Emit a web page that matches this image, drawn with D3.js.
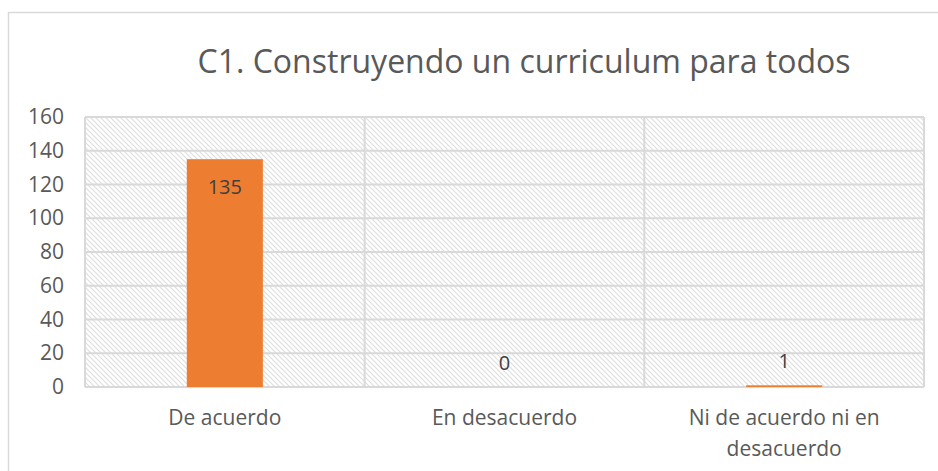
<!DOCTYPE html>
<html lang="es">
<head>
  <meta charset="UTF-8">
  <script src="https://d3js.org/d3.v7.min.js" charset="utf-8"></script>
  <title>C1</title>
  <style>
    body { margin: 0; background: #fff; }
    text { font-family: "Open Sans", Lato, sans-serif; }
  </style>
</head>
<body>
  <script type="text/javascript">
    // chart data
    var categories = ["De acuerdo", "En desacuerdo", "Ni de acuerdo ni en desacuerdo"];
    var values = [135, 0, 1];
    var yTicks = [0, 20, 40, 60, 80, 100, 120, 140, 160];
    var title = "C1. Construyendo un curriculum para todos";

    var outer_w = 938, outer_h = 471;
    var margin = { top: 117, right: 14, bottom: 84, left: 85 };
    var w = outer_w - margin.left - margin.right;
    var h = outer_h - margin.top - margin.bottom;

    var svg = d3.select("body").append("svg")
      .attr("width", outer_w)
      .attr("height", outer_h);

    // hatch pattern for the plot area
    var defs = svg.append("defs");
    var pat = defs.append("pattern")
      .attr("id", "hatch")
      .attr("patternUnits", "userSpaceOnUse")
      .attr("width", 5).attr("height", 5);
    pat.append("path")
      .attr("d", "M-1,-1 L6,6 M-1,4 L1,6 M4,-1 L6,1")
      .attr("stroke", "#dedede")
      .attr("stroke-width", 1.2);

    // outer chart border (only left/top visible)
    svg.append("rect")
      .attr("x", 8.5).attr("y", 12.5)
      .attr("width", 960).attr("height", 500)
      .attr("fill", "none")
      .attr("stroke", "#d9d9d9")
      .attr("stroke-width", 1.5);

    svg.append("text")
      .attr("x", 524).attr("y", 73)
      .attr("text-anchor", "middle")
      .attr("font-size", 32)
      .attr("fill", "#595959")
      .text(title);

    var xScale = d3.scaleBand()
      .domain(categories)
      .range([0, w])
      .paddingInner(0.728)
      .paddingOuter(0.364);
    var xGrid = d3.scaleBand().domain(categories).range([0, w]);
    var yScale = d3.scaleLinear().domain([0, 160]).range([h, 0]);

    var g = svg.append("g")
      .attr("transform", "translate(" + margin.left + "," + margin.top + ")");

    g.append("rect")
      .attr("width", w).attr("height", h)
      .attr("fill", "url(#hatch)");

    // horizontal gridlines
    g.selectAll("line.hgrid")
      .data(yTicks)
      .enter().append("line")
      .attr("class", "hgrid")
      .attr("x1", 0).attr("x2", w)
      .attr("y1", function (d) { return yScale(d); })
      .attr("y2", function (d) { return yScale(d); })
      .attr("stroke", "#d9d9d9")
      .attr("stroke-width", 2);

    // vertical gridlines between categories
    var vb = categories.map(function (c) { return xGrid(c); }).concat([w]);
    g.selectAll("line.vgrid")
      .data(vb)
      .enter().append("line")
      .attr("class", "vgrid")
      .attr("y1", 0).attr("y2", h)
      .attr("x1", function (d) { return d; })
      .attr("x2", function (d) { return d; })
      .attr("stroke", "#d9d9d9")
      .attr("stroke-width", 2);

    // bars
    g.selectAll("rect.bar")
      .data(values)
      .enter().append("rect")
      .attr("class", "bar")
      .attr("x", function (d, i) { return xScale(categories[i]); })
      .attr("width", xScale.bandwidth())
      .attr("y", function (d) { return yScale(d); })
      .attr("height", function (d) { return h - yScale(d); })
      .attr("fill", "#ed7d31");

    // data labels
    g.selectAll("text.lbl")
      .data(values)
      .enter().append("text")
      .attr("class", "lbl")
      .attr("x", function (d, i) { return xScale(categories[i]) + xScale.bandwidth() / 2; })
      .attr("y", function (d) {
        return d > 20 ? yScale(d) + 35 : yScale(d) - 17;
      })
      .attr("text-anchor", "middle")
      .attr("font-size", 20)
      .attr("fill", "#404040")
      .text(function (d) { return d; });

    // y axis
    var yAxis = d3.axisLeft(yScale).tickValues(yTicks).tickSize(0).tickPadding(21);
    var ya = g.append("g").call(yAxis);
    ya.select(".domain").remove();
    ya.selectAll("text")
      .attr("font-size", 21)
      .attr("fill", "#595959")
      .style("font-family", "'Open Sans', Lato, sans-serif");

    // x axis labels (wrapped)
    var xa = g.append("g").attr("transform", "translate(0," + h + ")");
    var wrap = { "Ni de acuerdo ni en desacuerdo": ["Ni de acuerdo ni en", "desacuerdo"] };
    categories.forEach(function (c) {
      var lines = wrap[c] || [c];
      var t = xa.append("text")
        .attr("text-anchor", "middle")
        .attr("font-size", 21)
        .attr("fill", "#595959");
      lines.forEach(function (l, k) {
        t.append("tspan")
          .attr("x", xScale(c) + xScale.bandwidth() / 2)
          .attr("y", 38 + k * 31)
          .text(l);
      });
    });
  </script>
</body>
</html>
